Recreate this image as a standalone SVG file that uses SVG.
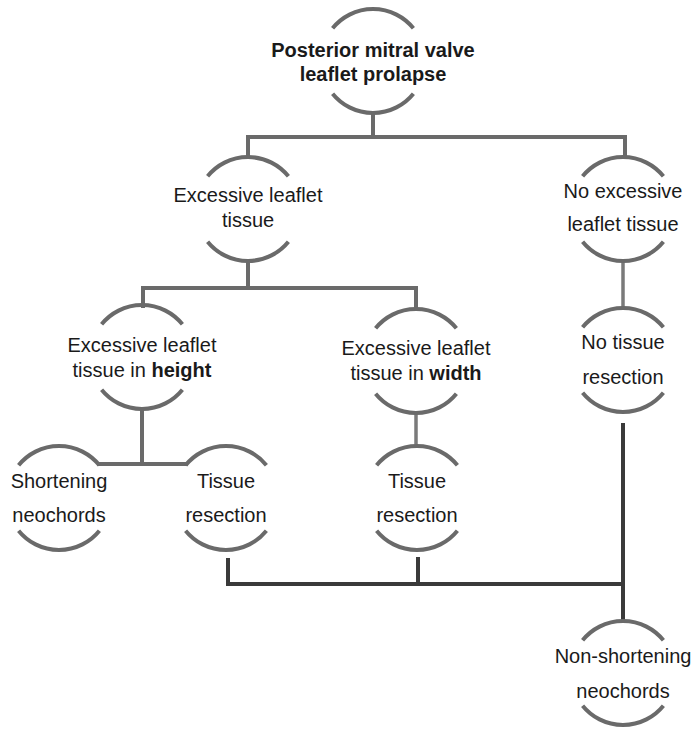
<svg xmlns="http://www.w3.org/2000/svg" width="697" height="729" viewBox="0 0 697 729">
<style>
.arc{fill:none;stroke:#6a6a6a;stroke-width:4;stroke-linecap:butt}
.ln{fill:none;stroke:#6a6a6a;stroke-width:4;stroke-linecap:square}
.lt{fill:none;stroke:#7a7a7a;stroke-width:3.5}
.dk{fill:none;stroke:#3a3a3a;stroke-width:4;stroke-linecap:square}
text{font-family:"Liberation Sans",Arial,sans-serif;font-size:20px;fill:#1a1a1a;text-anchor:middle}
.b{font-weight:bold}
</style>
<rect width="697" height="729" fill="#ffffff"/>
<g id="connectors">
<path class="ln" d="M373,115 V137 M248,137 H625 M248,137 V156 M625,137 V156"/>
<path class="ln" d="M248,262 V288 M143,288 H416 M143,288 V306 M416,288 V308"/>
<path class="lt" d="M623,262 V308"/>
<path class="lt" d="M416,413 V446"/>
<path class="ln" d="M142,410 V464"/>
<path class="ln" d="M99,464 H186"/>
<path class="dk" d="M228,560 V584 H622 M418,559 V584 M623,425 V620"/>
</g>
<g id="n1">
<path class="arc" d="M332.6,28.3 A52,52 0 0 1 413.4,28.3 M332.6,93.7 A52,52 0 0 0 413.4,93.7"/>
<text class="b" x="373" y="57">Posterior mitral valve</text>
<text class="b" x="373" y="81">leaflet prolapse</text>
</g>
<g id="n2">
<path class="arc" d="M207.6,176.3 A52,52 0 0 1 288.4,176.3 M207.6,241.7 A52,52 0 0 0 288.4,241.7"/>
<text x="248" y="202">Excessive leaflet</text>
<text x="248" y="227">tissue</text>
</g>
<g id="n3">
<path class="arc" d="M582.6,176.3 A52,52 0 0 1 663.4,176.3 M582.6,241.7 A52,52 0 0 0 663.4,241.7"/>
<text x="623" y="198">No excessive</text>
<text x="623" y="231">leaflet tissue</text>
</g>
<g id="n4">
<path class="arc" d="M582.6,327.3 A52,52 0 0 1 663.4,327.3 M582.6,392.7 A52,52 0 0 0 663.4,392.7"/>
<text x="623" y="349">No tissue</text>
<text x="623" y="384">resection</text>
</g>
<g id="n5">
<path class="arc" d="M101.6,324.3 A52,52 0 0 1 182.4,324.3 M101.6,389.7 A52,52 0 0 0 182.4,389.7"/>
<text x="142" y="352">Excessive leaflet</text>
<text x="142" y="377">tissue in <tspan class="b">height</tspan></text>
</g>
<g id="n6">
<path class="arc" d="M18.6,465.3 A52,52 0 0 1 99.4,465.3 M18.6,530.7 A52,52 0 0 0 99.4,530.7"/>
<text x="59" y="488">Shortening</text>
<text x="59" y="522">neochords</text>
</g>
<g id="n7">
<path class="arc" d="M185.6,465.3 A52,52 0 0 1 266.4,465.3 M185.6,530.7 A52,52 0 0 0 266.4,530.7"/>
<text x="226" y="488">Tissue</text>
<text x="226" y="522">resection</text>
</g>
<g id="n8">
<path class="arc" d="M375.6,328.3 A52,52 0 0 1 456.4,328.3 M375.6,393.7 A52,52 0 0 0 456.4,393.7"/>
<text x="416" y="355">Excessive leaflet</text>
<text x="416" y="380">tissue in <tspan class="b">width</tspan></text>
</g>
<g id="n9">
<path class="arc" d="M376.6,465.3 A52,52 0 0 1 457.4,465.3 M376.6,530.7 A52,52 0 0 0 457.4,530.7"/>
<text x="417" y="488">Tissue</text>
<text x="417" y="522">resection</text>
</g>
<g id="n10">
<path class="arc" d="M582.6,640.3 A52,52 0 0 1 663.4,640.3 M582.6,705.7 A52,52 0 0 0 663.4,705.7"/>
<text x="623" y="663">Non-shortening</text>
<text x="623" y="698">neochords</text>
</g>
</svg>
